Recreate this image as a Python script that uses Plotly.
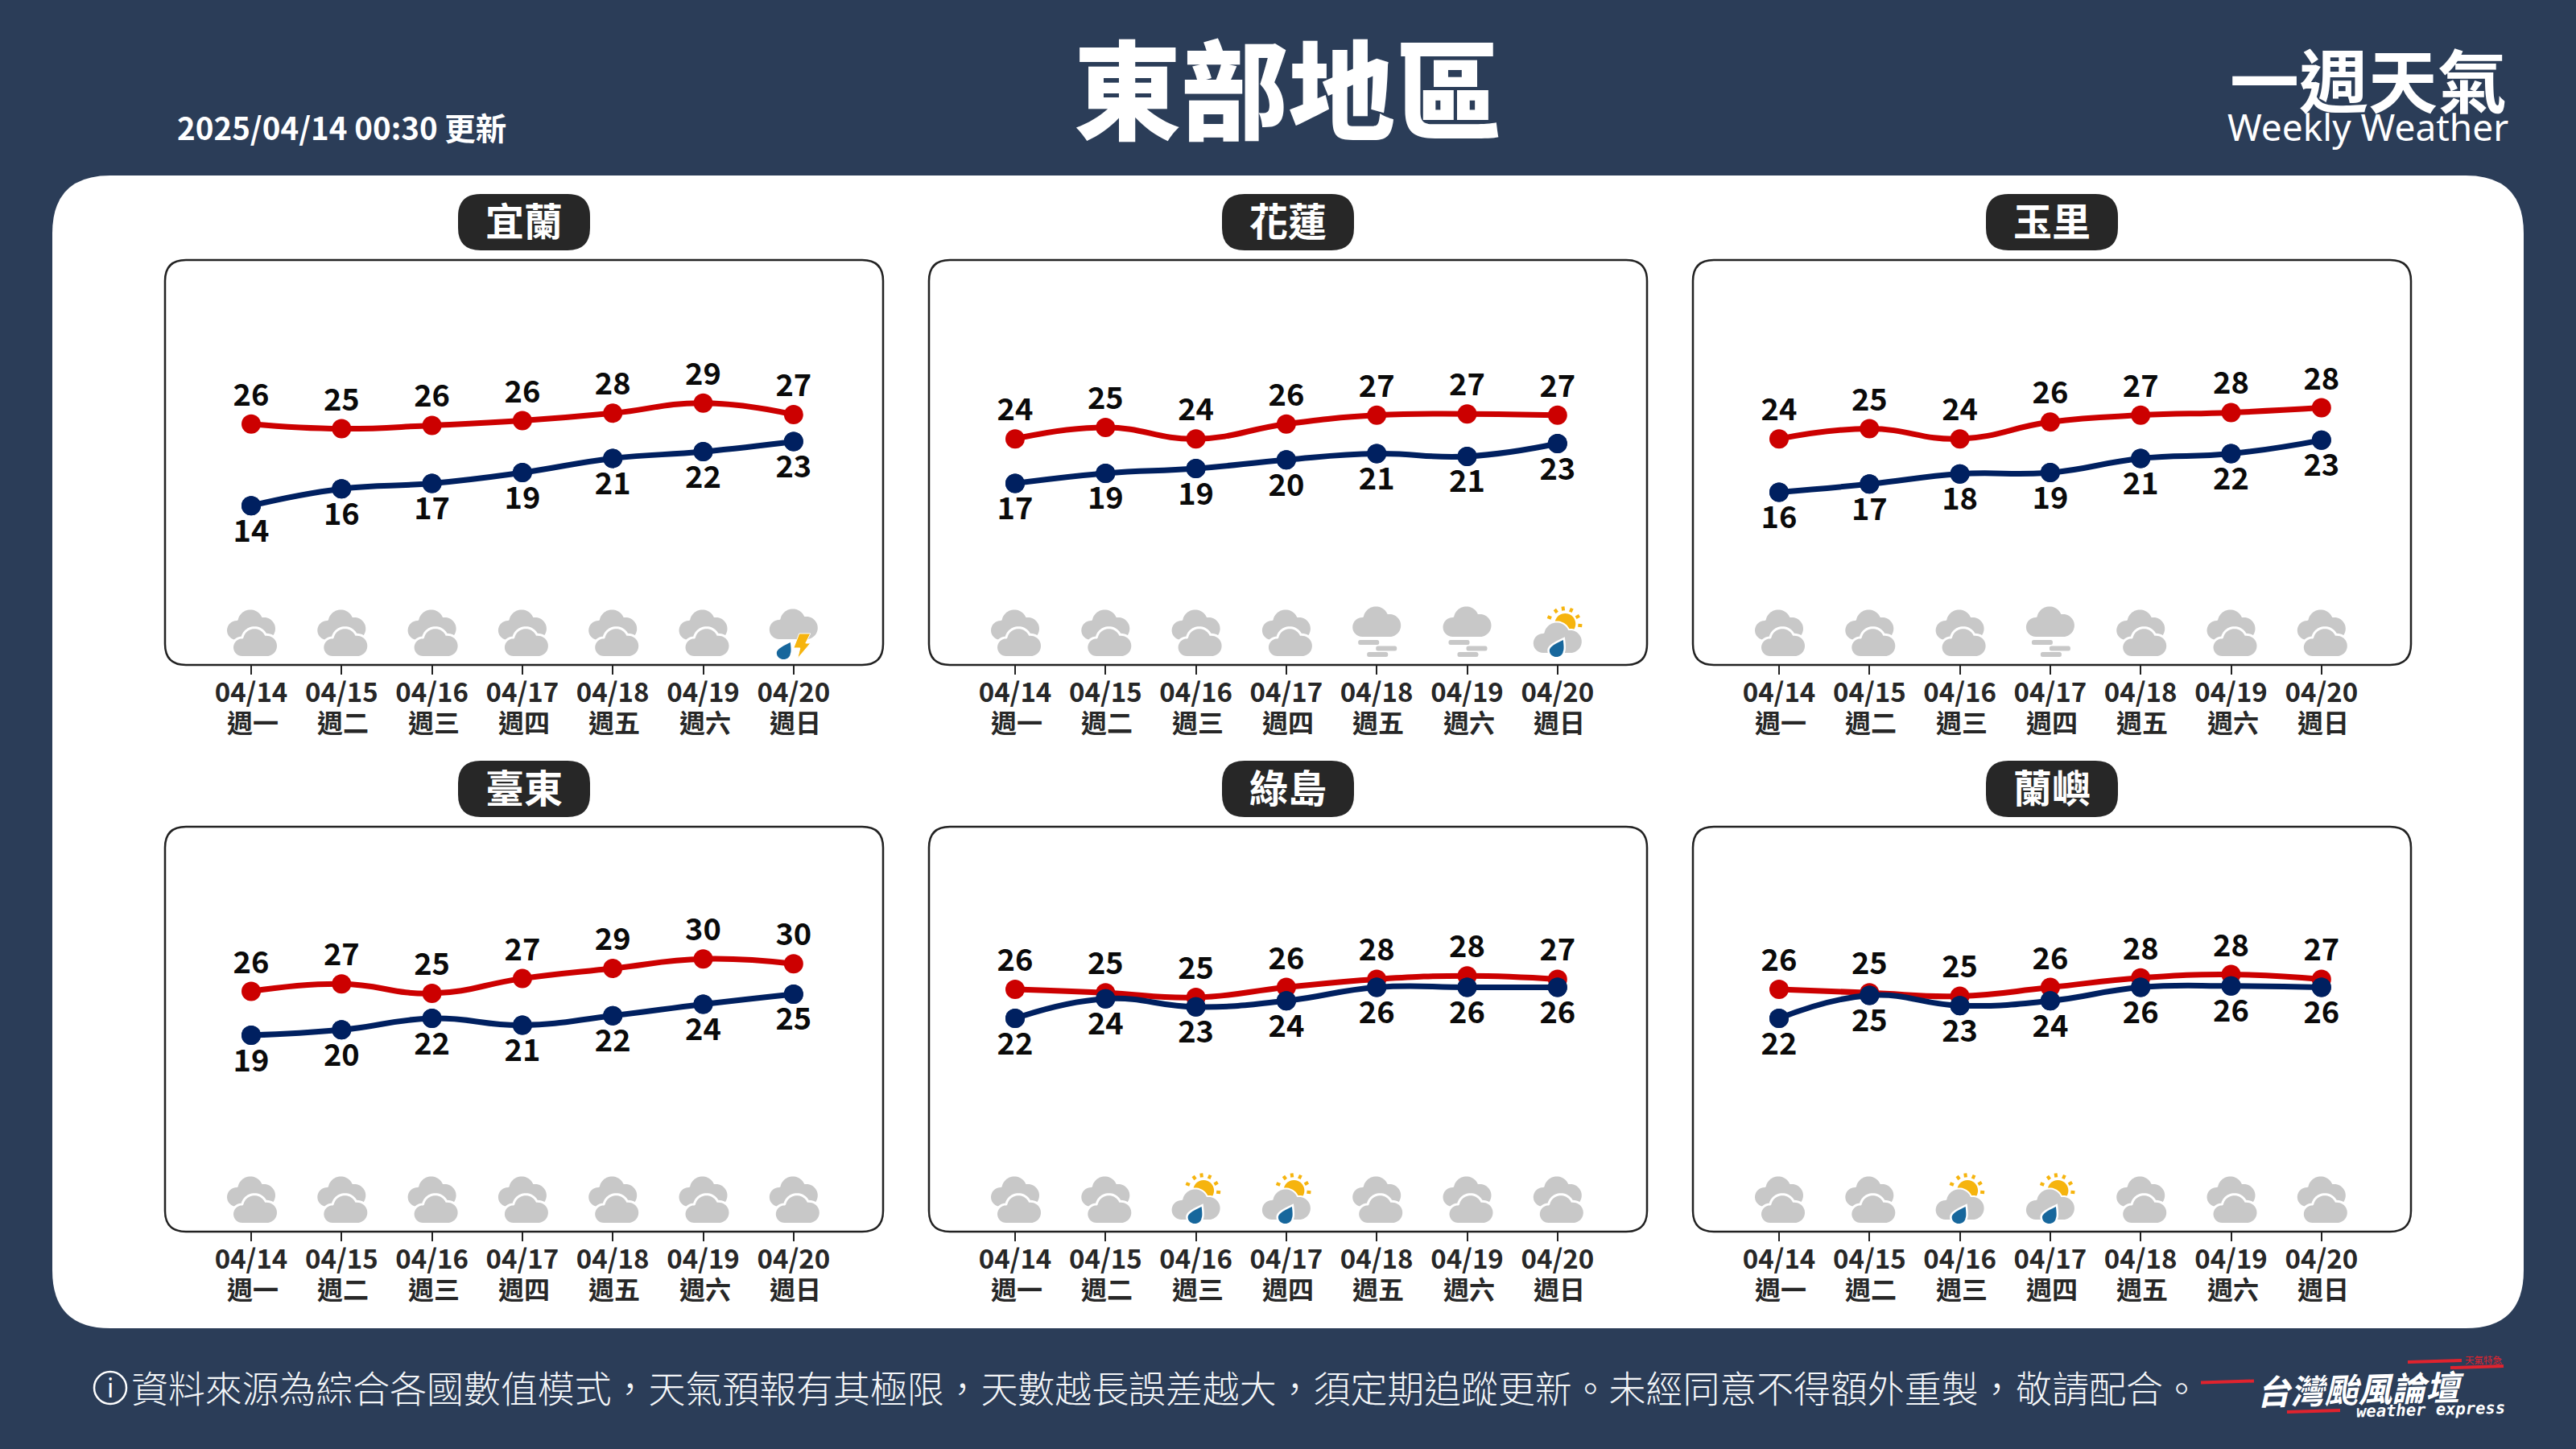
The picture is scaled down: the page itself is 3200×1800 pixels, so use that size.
import math
import plotly.graph_objects as go

# ---------- data ----------
dates = ["04/14", "04/15", "04/16", "04/17", "04/18", "04/19", "04/20"]
weekdays = ["週一", "週二", "週三", "週四", "週五", "週六", "週日"]
stations = ["宜蘭", "花蓮", "玉里", "臺東", "綠島", "蘭嶼"]

yilan_high = [25.7, 25.0, 25.5, 26.2, 27.3, 28.8, 27.1]
yilan_low = [13.6, 16.1, 16.9, 18.5, 20.6, 21.6, 23.1]
yilan_high_labels = [26, 25, 26, 26, 28, 29, 27]
yilan_low_labels = [14, 16, 17, 19, 21, 22, 23]
yilan_wx = ["c", "c", "c", "c", "c", "c", "t"]

hualien_high = [23.5, 25.2, 23.5, 25.7, 27.0, 27.2, 27.0]
hualien_low = [16.9, 18.4, 19.1, 20.4, 21.3, 20.9, 22.8]
hualien_high_labels = [24, 25, 24, 26, 27, 27, 27]
hualien_low_labels = [17, 19, 19, 20, 21, 21, 23]
hualien_wx = ["c", "c", "c", "c", "f", "f", "s"]

yuli_high = [23.5, 25.0, 23.5, 26.0, 27.0, 27.4, 28.1]
yuli_low = [15.6, 16.8, 18.3, 18.5, 20.6, 21.3, 23.3]
yuli_high_labels = [24, 25, 24, 26, 27, 28, 28]
yuli_low_labels = [16, 17, 18, 19, 21, 22, 23]
yuli_wx = ["c", "c", "c", "f", "c", "c", "c"]

taitung_high = [25.6, 26.7, 25.3, 27.5, 29.0, 30.4, 29.7]
taitung_low = [19.1, 19.9, 21.6, 20.6, 22.0, 23.7, 25.2]
taitung_high_labels = [26, 27, 25, 27, 29, 30, 30]
taitung_low_labels = [19, 20, 22, 21, 22, 24, 25]
taitung_wx = ["c", "c", "c", "c", "c", "c", "c"]

ludao_high = [25.9, 25.4, 24.7, 26.2, 27.4, 27.9, 27.4]
ludao_low = [21.6, 24.5, 23.3, 24.2, 26.2, 26.2, 26.2]
ludao_high_labels = [26, 25, 25, 26, 28, 28, 27]
ludao_low_labels = [22, 24, 23, 24, 26, 26, 26]
ludao_wx = ["c", "c", "s", "s", "c", "c", "c"]

lanyu_high = [25.9, 25.4, 24.9, 26.2, 27.6, 28.1, 27.4]
lanyu_low = [21.6, 25.0, 23.5, 24.2, 26.2, 26.4, 26.2]
lanyu_high_labels = [26, 25, 25, 26, 28, 28, 27]
lanyu_low_labels = [22, 25, 23, 24, 26, 26, 26]
lanyu_wx = ["c", "c", "s", "s", "c", "c", "c"]

all_high = [yilan_high, hualien_high, yuli_high, taitung_high, ludao_high, lanyu_high]
all_low = [yilan_low, hualien_low, yuli_low, taitung_low, ludao_low, lanyu_low]
all_high_labels = [yilan_high_labels, hualien_high_labels, yuli_high_labels,
                   taitung_high_labels, ludao_high_labels, lanyu_high_labels]
all_low_labels = [yilan_low_labels, hualien_low_labels, yuli_low_labels,
                  taitung_low_labels, ludao_low_labels, lanyu_low_labels]
all_wx = [yilan_wx, hualien_wx, yuli_wx, taitung_wx, ludao_wx, lanyu_wx]

update_text = "2025/04/14 00:30 更新"
main_title = "東部地區"
footer = "資料來源為綜合各國數值模式，天氣預報有其極限，天數越長誤差越大，須定期追蹤更新。未經同意不得額外重製，敬請配合。"

# ---------- style ----------
W, H = 3200, 1800
BG = "#2b3d58"
RED = "#cc0000"
NAVY = "#002060"
DARK = "#272727"
GRAY = "#c8c8c8"
BLUE = "#17679c"
AMBER = "#f6b40e"
LOGO_RED = "#e0232e"
CJK = "Noto Sans CJK TC"


def px(x):
    return x / W


def py(y):
    return 1 - y / H


def pt(x, y):
    return f"{px(x):.6f},{py(y):.6f}"


def rrect(x0, y0, x1, y1, r):
    return (f"M{pt(x0 + r, y0)} L{pt(x1 - r, y0)} Q{pt(x1, y0)} {pt(x1, y0 + r)} "
            f"L{pt(x1, y1 - r)} Q{pt(x1, y1)} {pt(x1 - r, y1)} "
            f"L{pt(x0 + r, y1)} Q{pt(x0, y1)} {pt(x0, y1 - r)} "
            f"L{pt(x0, y0 + r)} Q{pt(x0, y0)} {pt(x0 + r, y0)} Z")


def circ(cx, cy, r):
    k = 0.5523 * r
    return (f"M{pt(cx + r, cy)} C{pt(cx + r, cy + k)} {pt(cx + k, cy + r)} {pt(cx, cy + r)} "
            f"C{pt(cx - k, cy + r)} {pt(cx - r, cy + k)} {pt(cx - r, cy)} "
            f"C{pt(cx - r, cy - k)} {pt(cx - k, cy - r)} {pt(cx, cy - r)} "
            f"C{pt(cx + k, cy - r)} {pt(cx + r, cy - k)} {pt(cx + r, cy)} Z")


# outline of the cloud glyph: union of three bumps and a flat base, traced by rays from its centre
BUMPS = [(-1, -22, 15.6), (-18, -12, 12), (16, -14, 14)]
BASE = (-18, -14, 18, 0)


def _outline():
    ox, oy = 0.0, -13.0
    pts = []
    for a in range(0, 360, 4):
        dx, dy = math.cos(math.radians(a)), math.sin(math.radians(a))
        best = 0.0
        for cx, cy, r in BUMPS:
            fx, fy = ox - cx, oy - cy
            b = fx * dx + fy * dy
            c = fx * fx + fy * fy - r * r
            disc = b * b - c
            if disc >= 0:
                best = max(best, -b + math.sqrt(disc))
        ts = []
        if dx > 0:
            ts.append((BASE[2] - ox) / dx)
        if dx < 0:
            ts.append((BASE[0] - ox) / dx)
        if dy > 0:
            ts.append((BASE[3] - oy) / dy)
        if dy < 0:
            ts.append((BASE[1] - oy) / dy)
        best = max(best, min(ts))
        pts.append((ox + dx * best, oy + dy * best))
    return pts


CLOUD = _outline()


def cloud_path(cx, bottom, s=1.0):
    return "M" + " L".join(pt(cx + a * s, bottom + b * s) for a, b in CLOUD) + " Z"


def drop_path(cx, top):
    # pointed tip at upper right
    tx, ty = cx + 8, top
    return (f"M{pt(tx, ty)} C{pt(tx + 1, ty + 8)} {pt(tx + 1, ty + 12)} {pt(tx, ty + 14)} "
            f"C{pt(tx - 1, ty + 24)} {pt(tx - 17, ty + 23)} {pt(tx - 17, ty + 13)} "
            f"C{pt(tx - 17, ty + 8)} {pt(tx - 8, ty + 4)} {pt(tx, ty)} Z")


shapes = []


def fill(path, color, line=None, lw=0, layer="below"):
    shapes.append(dict(type="path", path=path, xref="paper", yref="paper", fillcolor=color,
                       line=dict(color=line or color, width=lw), layer=layer))


def icon(kind, cx, ytop):
    # ytop: top of the panel box
    o = ytop - 323
    if kind == "c":
        fill(cloud_path(cx, 795 + o), GRAY)
        f = cloud_path(cx + 5, 815 + o, 0.9)
        fill(f, "#ffffff", "#ffffff", 6)
        fill(f, GRAY)
    elif kind == "f":
        fill(cloud_path(cx, 791 + o), GRAY)
        for a, b, yy in [(-23, 3, 798), (-1, 25, 805.5), (-12, 14, 813)]:
            fill(rrect(cx + a, yy - 3 + o, cx + b, yy + 3 + o, 2.5), GRAY)
    elif kind == "t":
        fill(cloud_path(cx, 794 + o), GRAY)
        fill(drop_path(cx - 12, 798 + o), BLUE)
        yo = 787 + o
        bolt = [(7, 0), (21, 0), (15, 12), (21, 12), (5, 31), (8, 18), (0, 18)]
        d = "M" + " L".join(pt(cx + a, yo + b) for a, b in bolt) + " Z"
        fill(d, AMBER, "#ffffff", 1)
    elif kind == "s":
        sx, sy = cx + 9.5, 775 + o
        fill(circ(sx, sy, 13), AMBER)
        for dx, yy in [(-10, 767), (-2, 759), (7, 756), (17, 758), (25, 766), (28, 777)]:
            x0 = cx + dx
            y0 = yy + o
            vx, vy = x0 - sx, y0 - sy
            n = (vx * vx + vy * vy) ** 0.5
            vx, vy = vx / n * 2.5, vy / n * 2.5
            shapes.append(dict(type="path", path=f"M{pt(x0 - vx, y0 - vy)} L{pt(x0 + vx, y0 + vy)}",
                               xref="paper", yref="paper", line=dict(color=AMBER, width=4),
                               layer="below"))
        c = cloud_path(cx, 811 + o)
        fill(c, "#ffffff", "#ffffff", 4)
        fill(c, GRAY)
        d = drop_path(cx - 1, 795 + o)
        fill(d, "#ffffff", "#ffffff", 5)
        fill(d, BLUE)


# page furniture
fill(rrect(65, 218, 3135, 1650, 72), "#ffffff")

panels_x = [(205, 1097), (1154, 2046), (2103, 2995)]
panels_y = [(323, 826), (1027, 1530)]
TICK_STEP = 112.3
X_LEFT = 107 / TICK_STEP
X_RIGHT = 6 + (892 - 107 - 6 * TICK_STEP) / TICK_STEP

fig = go.Figure()
annotations = []
layout_axes = {}


def note(text, x, y, size, color="#ffffff", weight=400, family=CJK, anchor="center", **kw):
    annotations.append(dict(text=text, x=px(x), y=py(y), xref="paper", yref="paper", showarrow=False,
                            xanchor=anchor, yanchor="middle",
                            font=dict(size=size, color=color, family=family, weight=weight), **kw))


for i, name in enumerate(stations):
    col, row = i % 3, i // 3
    x0, x1 = panels_x[col]
    y0, y1 = panels_y[row]
    ax = "" if i == 0 else str(i + 1)
    layout_axes[f"xaxis{ax}"] = dict(
        domain=[px(x0), px(x1)], anchor=f"y{ax}", type="category",
        categoryorder="array", categoryarray=dates, range=[-X_LEFT, X_RIGHT],
        showgrid=False, zeroline=False, showline=False, ticks="outside", ticklen=11,
        tickwidth=2, tickcolor="#222222", dtick=1, tickangle=0, fixedrange=True,
        ticklabelstandoff=-6,
        tickfont=dict(size=33, color=DARK, family=CJK, weight=700))
    layout_axes[f"yaxis{ax}"] = dict(
        domain=[py(y1), py(y0)], anchor=f"x{ax}", range=[-10, 50], visible=False, fixedrange=True)

    fill(rrect(x0, y0, x1, y1, 26), "rgba(0,0,0,0)", "#222222", 2.5)
    cx = (x0 + x1) / 2
    fill(rrect(cx - 82, y0 - 82, cx + 82, y0 - 12, 28), DARK)
    note(name, cx, y0 - 51, 48, weight=700)

    for j, d in enumerate(dates):
        tx = x0 + X_LEFT * TICK_STEP + j * TICK_STEP
        icon(all_wx[i][j], tx, y0)
        annotations.append(dict(text=weekdays[j], x=d, xref=f"x{ax}", y=py(y1 + 70), yref="paper",
                                showarrow=False, xanchor="center", yanchor="middle", xshift=2,
                                font=dict(size=32, color=DARK, family=CJK, weight=700)))

    text_font = dict(size=38, color="#0a0a0a", family=CJK, weight=700)
    for vals, labels, color, pos, text_marker in [
            (all_high[i], all_high_labels[i], RED, "top center", 20),
            (all_low[i], all_low_labels[i], NAVY, "bottom center", 24)]:
        fig.add_trace(go.Scatter(
            x=dates, y=vals, xaxis=f"x{ax}", yaxis=f"y{ax}", mode="markers+text",
            text=labels, textposition=pos, cliponaxis=False, showlegend=False,
            marker=dict(color=color, size=text_marker), textfont=text_font))
        fig.add_trace(go.Scatter(
            x=dates, y=vals, xaxis=f"x{ax}", yaxis=f"y{ax}", mode="lines+markers",
            cliponaxis=False, showlegend=False,
            line=dict(color=color, width=7, shape="spline", smoothing=1.3),
            marker=dict(color=color, size=24)))

# header
note(main_title, 1600, 105, 133, weight=900)
note(update_text, 218, 157, 38.5, weight=700, anchor="left")
note("一週天氣", 2942, 96, 86, weight=700)
note("Weekly Weather", 2941, 157, 46, family="Noto Sans")

# footer
fill(circ(137, 1724, 20), "rgba(0,0,0,0)", "#ffffff", 2.5)
note("i", 137, 1723, 32, family="Noto Sans")
note(footer, 161, 1722, 45.9, weight=300, anchor="left", color="#f4f6f8",
     family="Noto Sans CJK TC Light, Noto Sans CJK TC")

# logo
for xa, ya, xb, yb in [(2734, 1717.5, 2800, 1715.5), (2991, 1692, 3058, 1690),
                       (3044, 1699, 3110, 1697), (2841, 1754, 2907, 1752)]:
    shapes.append(dict(type="line", x0=px(xa), y0=py(ya), x1=px(xb), y1=py(yb), xref="paper", yref="paper",
                       line=dict(color=LOGO_RED, width=4)))
note("<i>台灣颱風論壇</i>", 2932, 1723, 42, weight=700, textangle=-1.5)
note("<i>weather express</i>", 3019, 1751, 20.5, family="DejaVu Sans Mono", weight=700, textangle=-1.5)
note("天氣特急", 3085, 1689, 11.5, color=LOGO_RED)

fig.update_layout(width=W, height=H, margin=dict(l=0, r=0, t=0, b=0, pad=0), autosize=False,
                  paper_bgcolor=BG, plot_bgcolor="rgba(0,0,0,0)", showlegend=False,
                  shapes=shapes, annotations=annotations, **layout_axes)

fig.write_html("out.html", config={"displayModeBar": False},
               post_script="document.body.style.margin='0';document.body.style.overflow='hidden';")
